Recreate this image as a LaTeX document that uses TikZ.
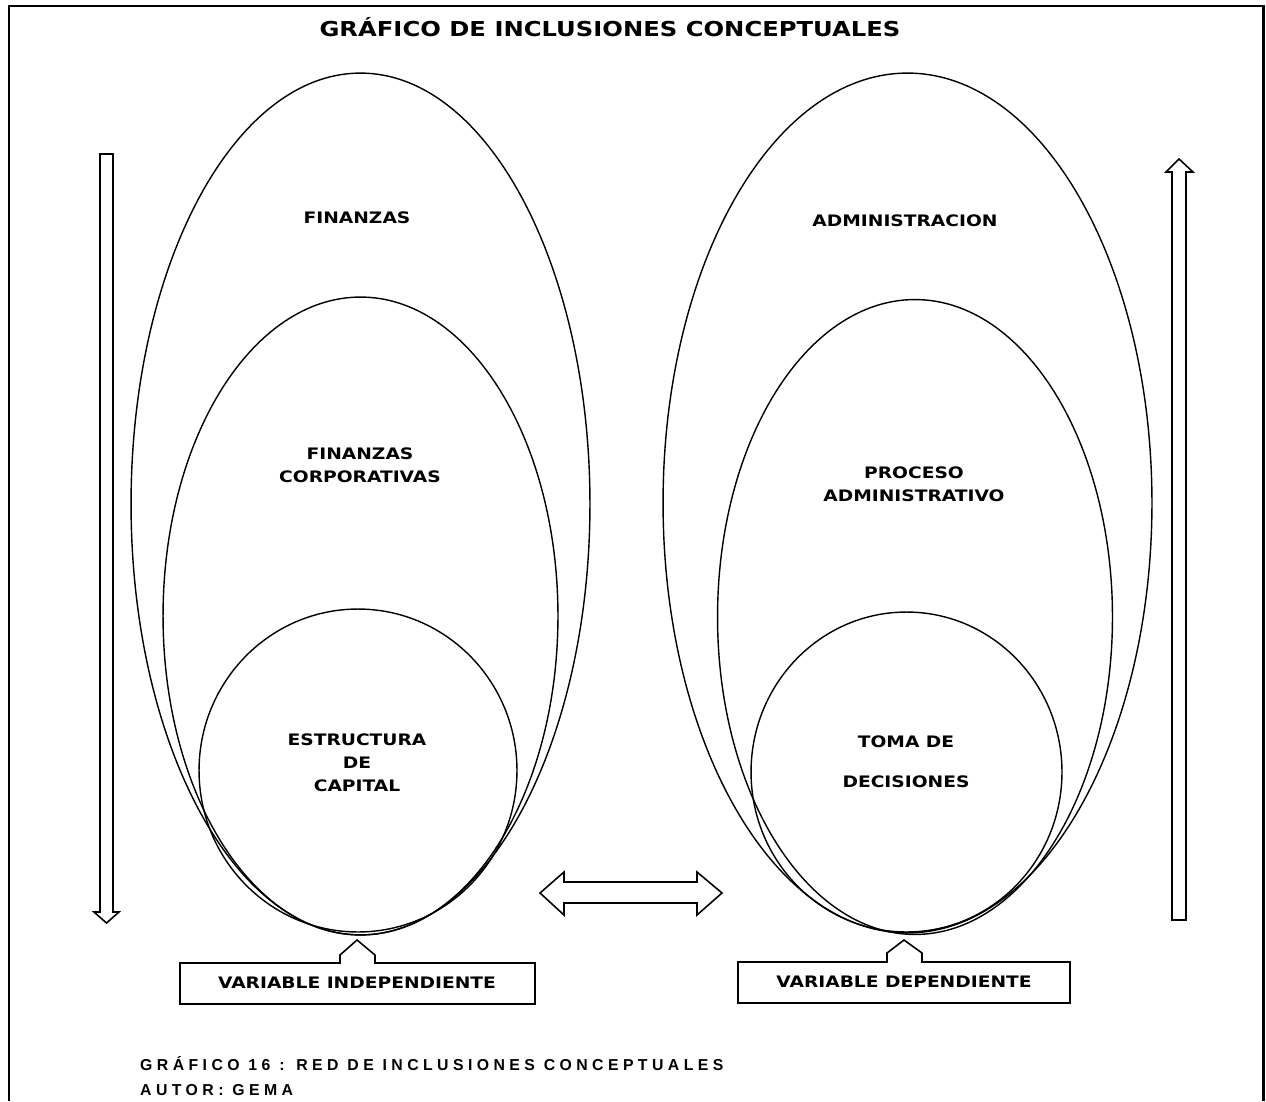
\documentclass[tikz,border=0pt]{standalone}
\usepackage{fontspec}
\setmainfont{DejaVu Sans}[FakeStretch=1.18]
\newfontfamily\captionfont{Liberation Sans}[LetterSpace=28]
\usetikzlibrary{shapes.geometric, positioning, calc}

\begin{document}
\begin{tikzpicture}[
    x=0.02cm, y=-0.02cm,
    oval/.style={ellipse, draw, line width=0.8pt, inner sep=0pt},
    label/.style={align=center, font=\fontsize{9}{13}\selectfont\bfseries},
    blockarrow/.style={draw, line width=0.9pt, line join=miter, fill=white},
    callout/.style={draw, line width=0.9pt, fill=white}
]
    \useasboundingbox (0,0) rectangle (1266,1101);
    \draw[line width=1.7pt] (9,1101) -- (9,6) -- (1263,6) -- (1263,1101);

    \node[font=\fontsize{11.7}{14}\selectfont\bfseries] (title) at (610,27) {GRÁFICO DE INCLUSIONES CONCEPTUALES};

    % variable independiente
    \node[oval, minimum width=9.18cm, minimum height=17.24cm] (finanzas) at (360.5,504) {};
    \node[oval, minimum width=7.9cm, minimum height=12.76cm] (corporativas) at (360.5,616) {};
    \node[oval, minimum width=6.36cm, minimum height=6.46cm] (estructura) at (358,770.5) {};
    \node[label] (finanzasTxt) at (357,218) {FINANZAS};
    \node[label] (corporativasTxt) at (360,465) {FINANZAS\\CORPORATIVAS};
    \node[label] (estructuraTxt) at (357,763) {ESTRUCTURA\\DE\\CAPITAL};

    % variable dependiente
    \node[oval, minimum width=9.78cm, minimum height=17.2cm] (admin) at (907.5,503) {};
    \node[oval, minimum width=7.9cm, minimum height=12.7cm] (proceso) at (915,617) {};
    \node[oval, minimum width=6.22cm, minimum height=6.4cm] (decisiones) at (906.5,772) {};
    \node[label] (adminTxt) at (905,221) {ADMINISTRACION};
    \node[label] (procesoTxt) at (914,484) {PROCESO\\ADMINISTRATIVO};
    \node[label, font=\fontsize{9}{22.5}\selectfont\bfseries] (decisionesTxt) at (906,761.5) {TOMA DE\\[0pt]DECISIONES};

    % flechas
    \draw[blockarrow] (100,154) -- (113,154) -- (113,912) -- (119,912) -- (106.5,923)
        -- (94,912) -- (100,912) -- cycle;
    \draw[blockarrow] (1172,920) -- (1186,920) -- (1186,172) -- (1193,172) -- (1179,159)
        -- (1166,172) -- (1172,172) -- cycle;
    \draw[blockarrow] (540,893) -- (564,872) -- (564,882) -- (697,882) -- (697,872) -- (722,893)
        -- (697,915) -- (697,903) -- (564,903) -- (564,915) -- cycle;

    % recuadros
    \draw[callout] (180,963) -- (340,963) -- (340,955) -- (357,940) -- (375,955) -- (375,963)
        -- (535,963) -- (535,1004) -- (180,1004) -- cycle;
    \node[label] (independiente) at (357,983) {VARIABLE INDEPENDIENTE};
    \draw[callout] (738,962) -- (887,962) -- (887,953) -- (904,940) -- (922,953) -- (922,962)
        -- (1070,962) -- (1070,1003) -- (738,1003) -- cycle;
    \node[label] (dependiente) at (904,982) {VARIABLE DEPENDIENTE};

    \node[anchor=west, align=left, font=\captionfont\fontsize{9}{14}\selectfont\bfseries] (fuente) at (134,1076)
        {GRÁFICO 16 : RED DE INCLUSIONES CONCEPTUALES\\AUTOR: GEMA};
\end{tikzpicture}
\end{document}
